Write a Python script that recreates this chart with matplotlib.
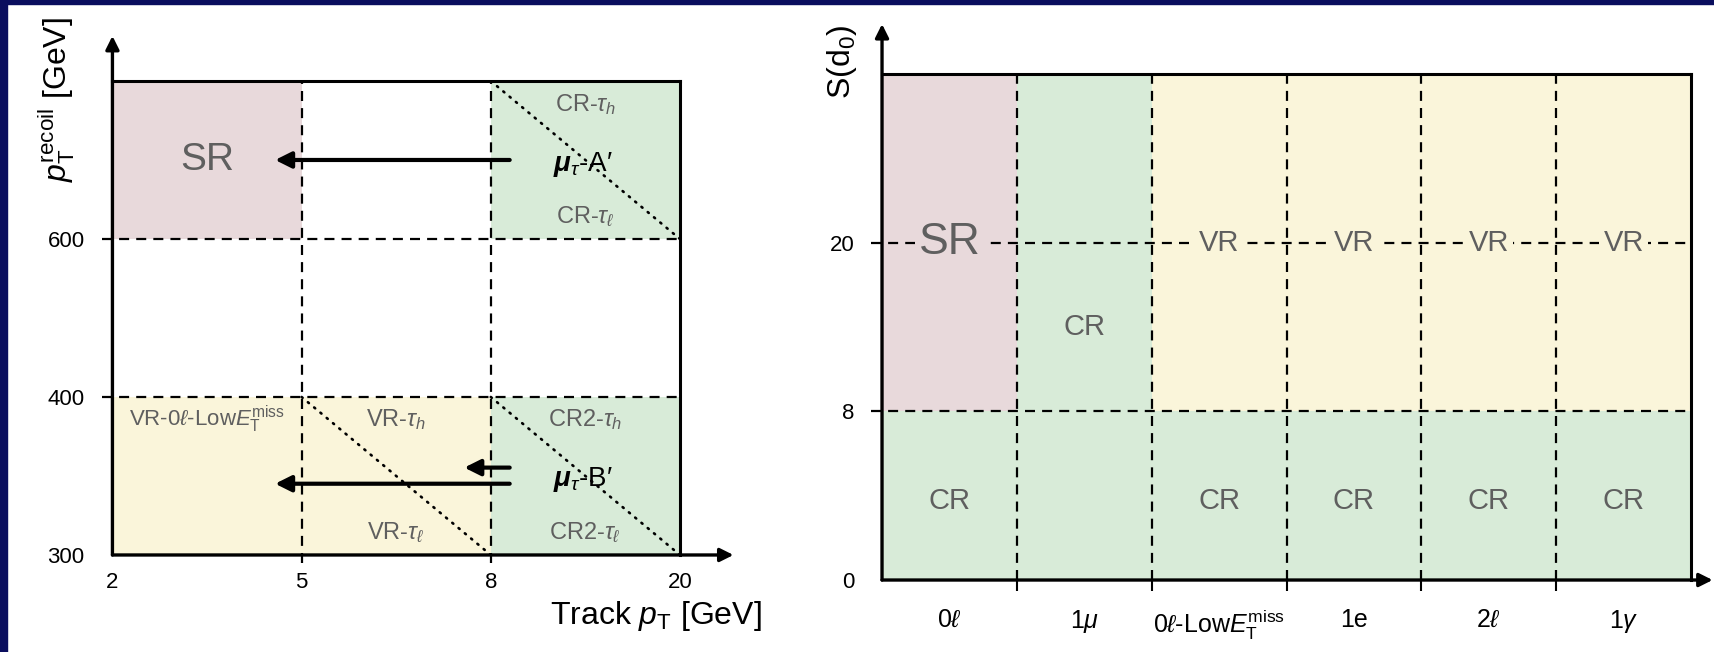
import matplotlib.pyplot as plt
from matplotlib.patches import Rectangle

plt.rcParams['font.family'] = ['Liberation Sans', 'DejaVu Sans']
plt.rcParams['mathtext.fontset'] = 'custom'
plt.rcParams['mathtext.rm'] = 'Liberation Sans'
plt.rcParams['mathtext.it'] = 'Liberation Sans:italic'
plt.rcParams['mathtext.bf'] = 'Liberation Sans:bold'
plt.rcParams['mathtext.bfit'] = 'Liberation Sans:italic:bold'

PINK = '#e8d9db'
GREEN = '#d8ebd8'
YELLOW = '#faf5da'
GREY = '#5f5f5f'
NAVY = '#0a0e5e'
colors = {'SR': PINK, 'CR': GREEN, 'VR': YELLOW}

# ---- left panel: track pT vs recoil pT (bins are index positions) ----
track_pt_edges = ['2', '5', '8', '20']
recoil_edges = ['300', '400', '600']
# (x0, x1, y0, y1, kind)
left_cells = [(0, 1, 2, 3, 'SR'), (2, 3, 2, 3, 'CR'),
              (0, 2, 0, 1, 'VR'), (2, 3, 0, 1, 'CR')]
left_diagonals = [((2, 3), (3, 2)), ((1, 1), (2, 0)), ((2, 1), (3, 0))]
left_labels = [
    (0.5, 2.5, 'SR', 28),
    (2.5, 2.85, r'CR-$\tau_h$', 17),
    (2.5, 2.14, r'CR-$\tau_\ell$', 17),
    (0.5, 0.86, r'VR-0$\ell$-Low$E_{\mathrm{T}}^{\mathrm{miss}}$', 16),
    (1.5, 0.86, r'VR-$\tau_h$', 17),
    (1.5, 0.14, r'VR-$\tau_\ell$', 17),
    (2.5, 0.86, r'CR2-$\tau_h$', 17),
    (2.5, 0.14, r'CR2-$\tau_\ell$', 17),
]
mu_labels = [(2.49, 2.47, r"$\boldsymbol{\mu}_{\tau}$-A′"),
             (2.49, 0.48, r"$\boldsymbol{\mu}_{\tau}$-B′")]
# migration arrows: (start, tip)
left_arrows = [((2.10, 2.5), (0.86, 2.5)),
               ((2.10, 0.553), (1.86, 0.553)),
               ((2.10, 0.451), (0.86, 0.451))]

# ---- right panel: selection vs S(d0) ----
selections = [r'0$\ell$', r'1$\mu$', r'0$\ell$-Low$E_{\mathrm{T}}^{\mathrm{miss}}$',
              '1e', r'2$\ell$', r'1$\gamma$']
sd0_edges = ['0', '8', '20']
right_cells = [(0, 6, 0, 1, 'CR'), (0, 1, 1, 3, 'SR'),
               (1, 2, 1, 3, 'CR'), (2, 6, 1, 3, 'VR')]
right_labels = [(0.5, 2.0, 'SR', 32, PINK), (1.5, 1.5, 'CR', 21, GREEN),
                (2.5, 2.0, 'VR', 21, YELLOW), (3.5, 2.0, 'VR', 21, YELLOW),
                (4.5, 2.0, 'VR', 21, YELLOW), (5.5, 2.0, 'VR', 21, YELLOW),
                (0.5, 0.47, 'CR', 21, None), (2.5, 0.47, 'CR', 21, None),
                (3.5, 0.47, 'CR', 21, None), (4.5, 0.47, 'CR', 21, None),
                (5.5, 0.47, 'CR', 21, None)]

fig = plt.figure(figsize=(17.14, 6.52), dpi=100)
fig.add_artist(Rectangle((0, 1 - 4 / 652), 1, 4 / 652, transform=fig.transFigure,
                         color=NAVY, zorder=10))
fig.add_artist(Rectangle((0, 0), 7 / 1714, 1, transform=fig.transFigure,
                         color=NAVY, zorder=10))

dash = (0, (4.5, 3.2))
LW = 1.6


def setup(ax, nx, ny, xtip, ytip):
    ax.set_xlim(0, nx)
    ax.set_ylim(0, ny)
    for s in ax.spines.values():
        s.set_visible(False)
    ax.patch.set_alpha(0)
    arrow = dict(arrowstyle='-|>', lw=2.4, color='black', mutation_scale=20,
                 shrinkA=0, shrinkB=0)
    ax.annotate('', xy=(xtip, 0), xytext=(0, 0), arrowprops=arrow,
                annotation_clip=False, zorder=6)
    ax.annotate('', xy=(0, ytip), xytext=(0, 0), arrowprops=arrow,
                annotation_clip=False, zorder=6)
    ax.plot([0, nx], [ny, ny], color='black', lw=2.2, zorder=5, clip_on=False)
    ax.plot([nx, nx], [0, ny], color='black', lw=2.2, zorder=5, clip_on=False)


# left panel
axL = fig.add_axes([0.0656, 0.1488, 0.3311, 0.727])
setup(axL, 3, 3, 3.283, 3.285)
for x0, x1, y0, y1, kind in left_cells:
    axL.add_patch(Rectangle((x0, y0), x1 - x0, y1 - y0, color=colors[kind], lw=0, zorder=1))
for x in (1, 2):
    axL.plot([x, x], [-0.05, 3], color='black', lw=LW, ls=dash, zorder=3, clip_on=False)
for y in (1, 2):
    axL.plot([-0.055, 3], [y, y], color='black', lw=LW, ls=dash, zorder=3, clip_on=False)
for (xa, ya), (xb, yb) in left_diagonals:
    axL.plot([xa, xb], [ya, yb], color='black', lw=1.9, ls=(0, (0.5, 2.6)),
             dash_capstyle='round', zorder=3)
for x, y, s, fs in left_labels:
    axL.text(x, y, s, fontsize=fs, color=GREY, ha='center', va='center', zorder=4)
for x, y, s in mu_labels:
    axL.text(x, y, s, fontsize=20, color='black', ha='center', va='center', zorder=4)
for start, tip in left_arrows:
    axL.annotate('', xy=tip, xytext=start,
                 arrowprops=dict(arrowstyle='-|>', lw=3, color='black',
                                 mutation_scale=24, shrinkA=0, shrinkB=0), zorder=5)
axL.set_xticks(range(len(track_pt_edges)), track_pt_edges, fontsize=16)
axL.set_yticks(range(len(recoil_edges)), recoil_edges, fontsize=16)
axL.tick_params(axis='x', length=0, pad=12)
axL.tick_params(axis='y', length=0, pad=20)
fig.text(762 / 1714, 1 - 616 / 652, r'Track $p_{\mathrm{T}}$ [GeV]', fontsize=23,
         ha='right', va='center')
fig.text(57 / 1714, 1 - 100 / 652, r'$p_{\mathrm{T}}^{\mathrm{recoil}}$ [GeV]',
         fontsize=23, rotation=90, ha='center', va='center')

# right panel
axR = fig.add_axes([0.5146, 0.1104, 0.472, 0.7761])
setup(axR, 6, 3, 6.16, 3.296)
for x0, x1, y0, y1, kind in right_cells:
    axR.add_patch(Rectangle((x0, y0), x1 - x0, y1 - y0, color=colors[kind], lw=0, zorder=1))
for x in range(1, 6):
    axR.plot([x, x], [0, 3], color='black', lw=LW, ls=dash, zorder=3)
for y in (1, 2):
    axR.plot([-0.08, 6], [y, y], color='black', lw=LW, ls=dash, zorder=3, clip_on=False)
for x, y, s, fs, bg in right_labels:
    box = dict(facecolor=bg, edgecolor='none', pad=3) if bg else None
    axR.text(x, y, s, fontsize=fs, color=GREY, ha='center', va='center',
             zorder=4, bbox=box)
axR.set_xticks([i + 0.5 for i in range(len(selections))], selections, fontsize=18)
axR.set_xticks(range(1, 6), minor=True)
axR.tick_params(axis='x', which='major', length=0, pad=20)
axR.tick_params(axis='x', which='minor', length=8, width=1.5, direction='out')
axR.set_yticks(range(len(sd0_edges)), sd0_edges, fontsize=16)
axR.tick_params(axis='y', length=0, pad=20)
fig.text(842 / 1714, 1 - 62 / 652, r'S(d$_0$)', fontsize=23, rotation=90,
         ha='center', va='center')

fig.savefig('out.png', dpi=100, facecolor='white')
